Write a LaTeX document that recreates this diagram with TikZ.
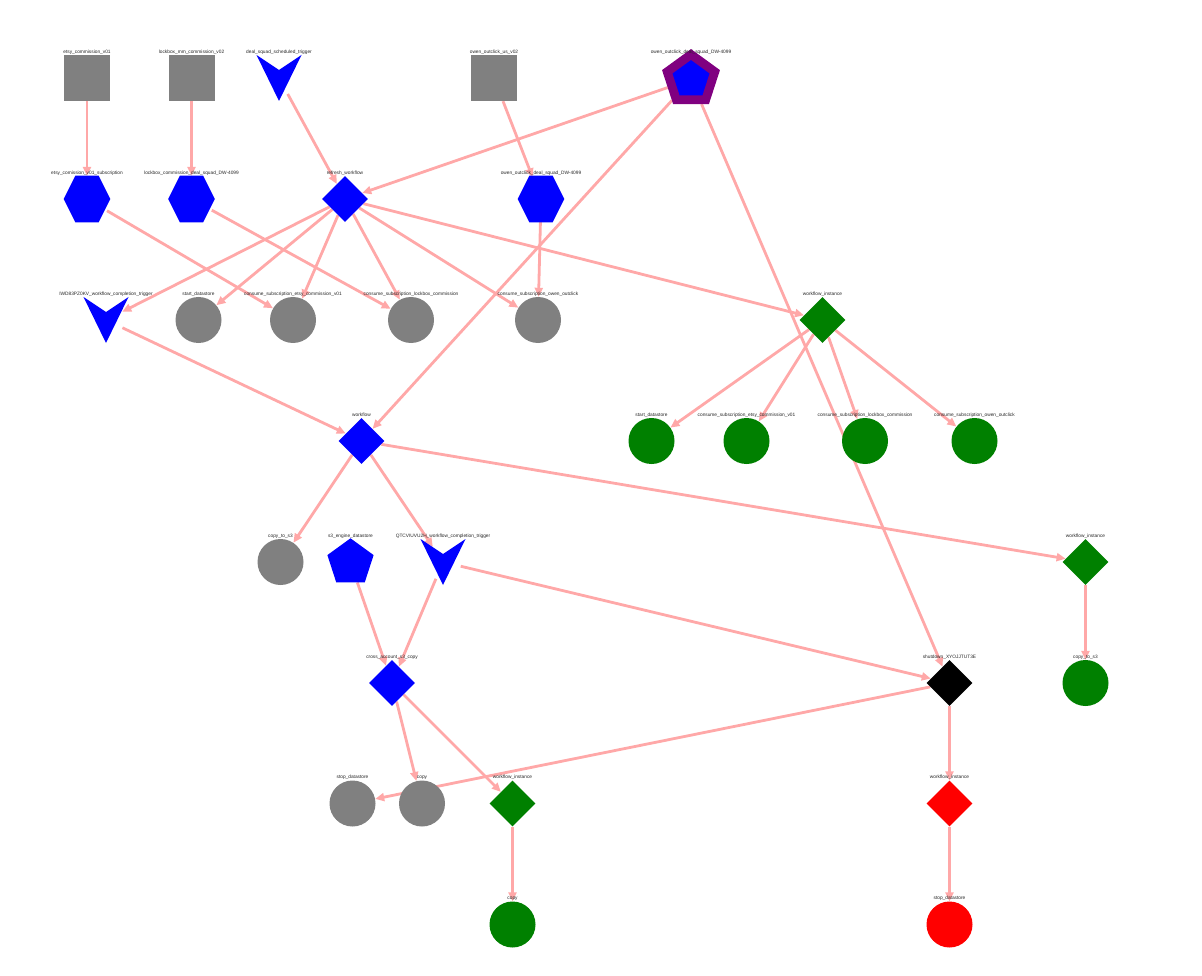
\documentclass[tikz,border=0pt]{standalone}
\usepackage{fontspec}
\setmainfont{Liberation Sans}
\usetikzlibrary{shapes.geometric,arrows.meta,backgrounds}
\definecolor{edgepink}{RGB}{255,168,168}
\definecolor{ngray}{RGB}{128,128,128}
\definecolor{ngreen}{RGB}{0,128,0}
\definecolor{npurple}{RGB}{128,0,128}
\tikzset{
  lbl/.style={font=\fontsize{4.8}{5}\selectfont, text=black!85, inner sep=0pt},
  hub/.style={circle, minimum size=46pt, inner sep=0pt},
  veehub/.style={circle, minimum size=36pt, inner sep=0pt},
  sq/.style={rectangle, minimum size=46pt, inner sep=0pt, fill=ngray},
  dot/.style={circle, minimum size=46pt, inner sep=0pt, fill=#1},
  dia/.style={diamond, aspect=1, minimum width=46pt, minimum height=46pt, inner sep=0pt, fill=#1},
  pent/.style={regular polygon, regular polygon sides=5, inner sep=0pt},
  edge/.style={draw=edgepink, line width=2.8pt, -{Triangle[length=9pt,width=8pt]}}
}
\newcommand\mynode[5]{\node[#2] (#1) at (#3,#4) {}; \node[lbl] at (#3,#4-26) {#5};}
\newcommand\myhex[4]{\fill[blue, shift={(#2,#3)}] (-23.3,0) -- (-11.7,-23.3) -- (11.7,-23.3) -- (23.3,0) -- (11.7,23.3) -- (-11.7,23.3) -- cycle; \node[hub] (#1) at (#2,#3) {}; \node[lbl] at (#2,#3-26) {#4};}
\newcommand\myvee[4]{\fill[blue, shift={(#2,#3)}] (-22.5,-23) -- (0,-8) -- (22.5,-23) -- (0,23) -- cycle; \node[veehub] (#1) at (#2,#3) {}; \node[lbl] at (#2,#3-26) {#4};}
\begin{document}
\begin{tikzpicture}[x=1pt,y=-1pt]
\useasboundingbox (0,0) rectangle (1202,976);
% row 1
\mynode{sqetsy}{sq}{87}{78}{etsy\_commission\_v01}
\mynode{sqlock}{sq}{191.5}{78}{lockbox\_mm\_commission\_v02}
\myvee{trigdeal}{279}{78}{deal\_squad\_scheduled\_trigger}
\mynode{sqowen}{sq}{494}{78}{owen\_outclick\_us\_v02}
\node[pent, minimum size=50pt, fill=blue, draw=npurple, line width=8.8pt] (pentowen) at (691,79.5) {};
\node[lbl] at (691,52) {owen\_outclick\_deal\_squad\_DW-4099};
% row 2
\myhex{hexetsy}{87}{199}{etsy\_comission\_v01\_subscription}
\myhex{hexlock}{191.5}{199}{lockbox\_commission\_deal\_squad\_DW-4099}
\mynode{refresh}{dia=blue}{345}{199}{refresh\_workflow}
\myhex{hexowen}{541}{199}{owen\_outclick\_deal\_squad\_DW-4099}
% row 3
\myvee{trigiwd}{106}{320}{IWD83PZ0KV\_workflow\_completion\_trigger}
\mynode{startg}{dot=ngray}{198.5}{320}{start\_datastore}
\mynode{csetsyg}{dot=ngray}{293}{320}{consume\_subscription\_etsy\_commission\_v01}
\mynode{cslockg}{dot=ngray}{411}{320}{consume\_subscription\_lockbox\_commission}
\mynode{csoweng}{dot=ngray}{538}{320}{consume\_subscription\_owen\_outclick}
\mynode{wfia}{dia=ngreen}{822.5}{320}{workflow\_instance}
% row 4
\mynode{workflow}{dia=blue}{361.5}{441}{workflow}
\mynode{startgr}{dot=ngreen}{651.5}{441}{start\_datastore}
\mynode{csetsygr}{dot=ngreen}{746.5}{441}{consume\_subscription\_etsy\_commission\_v01}
\mynode{cslockgr}{dot=ngreen}{865}{441}{consume\_subscription\_lockbox\_commission}
\mynode{csowengr}{dot=ngreen}{974.5}{441}{consume\_subscription\_owen\_outclick}
% row 5
\mynode{copysg}{dot=ngray}{280.5}{562}{copy\_to\_s3}
\node[pent, minimum size=48.6pt, fill=blue] (s3eng) at (350.5,562.6) {};
\node[lbl] at (350.5,536) {s3\_engine\_datastore};
\myvee{trigqtcv}{443}{562}{QTCVIUVU2H\_workflow\_completion\_trigger}
\mynode{wfib}{dia=ngreen}{1085.5}{562}{workflow\_instance}
% row 6
\mynode{cross}{dia=blue}{392}{683}{cross\_account\_s3\_copy}
\mynode{shutdown}{dia=black}{949.5}{683}{shutdown\_XYOJJTUT3E}
\mynode{copysgr}{dot=ngreen}{1085.5}{683}{copy\_to\_s3}
% row 7
\mynode{stopg}{dot=ngray}{352.5}{803.5}{stop\_datastore}
\mynode{copyg}{dot=ngray}{422}{803.5}{copy}
\mynode{wfic}{dia=ngreen}{512.5}{803.5}{workflow\_instance}
\mynode{wfired}{dia=red}{949.5}{803.5}{workflow\_instance}
% row 8
\mynode{copygr}{dot=ngreen}{512.5}{924.5}{copy}
\mynode{stopred}{dot=red}{949.5}{924.5}{stop\_datastore}
\begin{pgfonlayer}{background}
\draw[edge] (sqetsy) -- (hexetsy);
\draw[edge] (sqlock) -- (hexlock);
\draw[edge] (trigdeal) -- (refresh);
\draw[edge] (sqowen) -- (hexowen);
\draw[edge] (pentowen) -- (refresh);
\draw[edge] (pentowen) -- (workflow);
\draw[edge] (pentowen) -- (shutdown);
\draw[edge] (hexetsy) -- (csetsyg);
\draw[edge] (hexlock) -- (cslockg);
\draw[edge] (refresh) -- (trigiwd);
\draw[edge] (refresh) -- (startg);
\draw[edge] (refresh) -- (csetsyg);
\draw[edge] (refresh) -- (cslockg);
\draw[edge] (refresh) -- (csoweng);
\draw[edge] (refresh) -- (wfia);
\draw[edge] (hexowen) -- (csoweng);
\draw[edge] (trigiwd) -- (workflow);
\draw[edge] (wfia) -- (startgr);
\draw[edge] (wfia) -- (csetsygr);
\draw[edge] (wfia) -- (cslockgr);
\draw[edge] (wfia) -- (csowengr);
\draw[edge] (workflow) -- (copysg);
\draw[edge] (workflow) -- (trigqtcv);
\draw[edge] (workflow) -- (wfib);
\draw[edge] (s3eng) -- (cross);
\draw[edge] (trigqtcv) -- (cross);
\draw[edge] (trigqtcv) -- (shutdown);
\draw[edge] (cross) -- (copyg);
\draw[edge] (cross) -- (wfic);
\draw[edge] (shutdown) -- (stopg);
\draw[edge] (shutdown) -- (wfired);
\draw[edge] (wfic) -- (copygr);
\draw[edge] (wfired) -- (stopred);
\draw[edge] (wfib) -- (copysgr);
\end{pgfonlayer}
\end{tikzpicture}
\end{document}
